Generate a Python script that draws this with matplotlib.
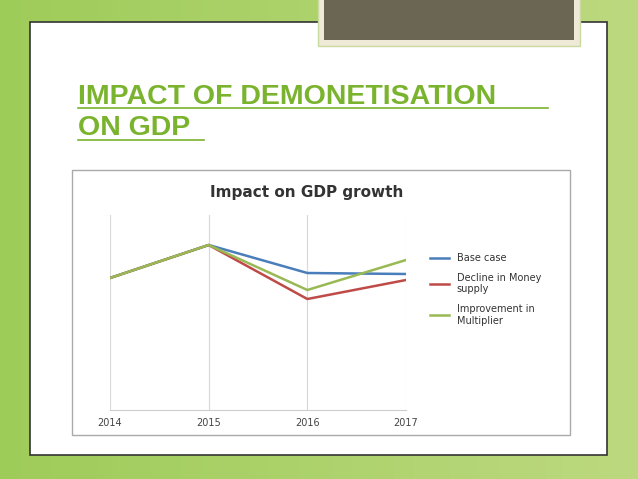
import matplotlib
matplotlib.use("Agg")
import matplotlib.pyplot as plt
from matplotlib.patches import Rectangle
import numpy as np

years = ["2014", "2015", "2016", "2017"]
base_case = [6.6, 8.25, 6.85, 6.8]
decline_money = [6.6, 8.25, 5.55, 6.5]
improve_mult = [6.6, 8.25, 6.0, 7.5]
series_names = ["Base case", "Decline in Money\nsupply", "Improvement in\nMultiplier"]
series_colors = ["#4a7ebb", "#be4b48", "#98b954"]

W, H = 638, 479
fig = plt.figure(figsize=(W/100, H/100), dpi=100)

def fx(x): return x / W
def fy(y): return 1 - y / H

bg = fig.add_axes([0, 0, 1, 1]); bg.set_axis_off()
grad = np.linspace(0, 1, 256).reshape(1, -1)
bg.imshow(np.dstack([0.62 + 0.12*grad, 0.80 + 0.05*grad, 0.35 + 0.15*grad]), aspect="auto", extent=[0, 1, 0, 1])
bg.set_xlim(0, 1); bg.set_ylim(0, 1)

def rect(x0, y0, x1, y1, fc, ec, lw):
    fig.patches.append(Rectangle((fx(x0), fy(y1)), fx(x1-x0), fy(y0)-fy(y1), transform=fig.transFigure,
                                 facecolor=fc, edgecolor=ec, linewidth=lw, zorder=1))

rect(30, 22, 607, 455, "white", "#333333", 1.2)
rect(318, -2, 580, 46, "#efe9d8", "#c9d9a0", 1)
rect(324, -2, 574, 40, "#6b6553", "none", 0)

fig.text(fx(78), fy(97), "IMPACT OF DEMONETISATION", color="#7ab32e", fontsize=20.5, fontweight="bold",
         va="center", family="Liberation Sans")
fig.text(fx(78), fy(128), "ON GDP", color="#7ab32e", fontsize=20.5, fontweight="bold",
         va="center", family="Liberation Sans")
fig.lines.append(plt.Line2D([fx(78), fx(548)], [fy(108), fy(108)], color="#7ab32e", lw=1.2, transform=fig.transFigure))
fig.lines.append(plt.Line2D([fx(78), fx(204)], [fy(140), fy(140)], color="#7ab32e", lw=1.2, transform=fig.transFigure))

rect(72, 170, 570, 435, "white", "#aaaaaa", 1)
fig.text(fx(307), fy(193), "Impact on GDP growth", ha="center", va="center", fontsize=11, fontweight="bold", color="#333333")

ax = fig.add_axes([fx(110), fy(410), fx(406-110), fy(215)-fy(410)])
ax.set_zorder(2)
x = np.arange(len(years))
for vals, c, n in zip([base_case, decline_money, improve_mult], series_colors, series_names):
    ax.plot(x, vals, color=c, lw=1.8, label=n)
ax.set_xlim(0, 3); ax.set_ylim(0, 9.75)
ax.set_xticks(x); ax.set_xticklabels(years, fontsize=7, color="#444444")
ax.set_yticks([])
for xi in x:
    ax.axvline(xi, color="#d8d8d8", lw=0.8, zorder=0)
for s in ax.spines.values(): s.set_visible(False)
ax.spines["bottom"].set_visible(True); ax.spines["bottom"].set_color("#cccccc")
ax.tick_params(length=0, pad=6)
ax.legend(loc="upper left", bbox_to_anchor=(1.05, 0.85), frameon=False, fontsize=7, handlelength=2,
          labelspacing=1.0, labelcolor="#333333")

fig.savefig("out.png", dpi=100)
